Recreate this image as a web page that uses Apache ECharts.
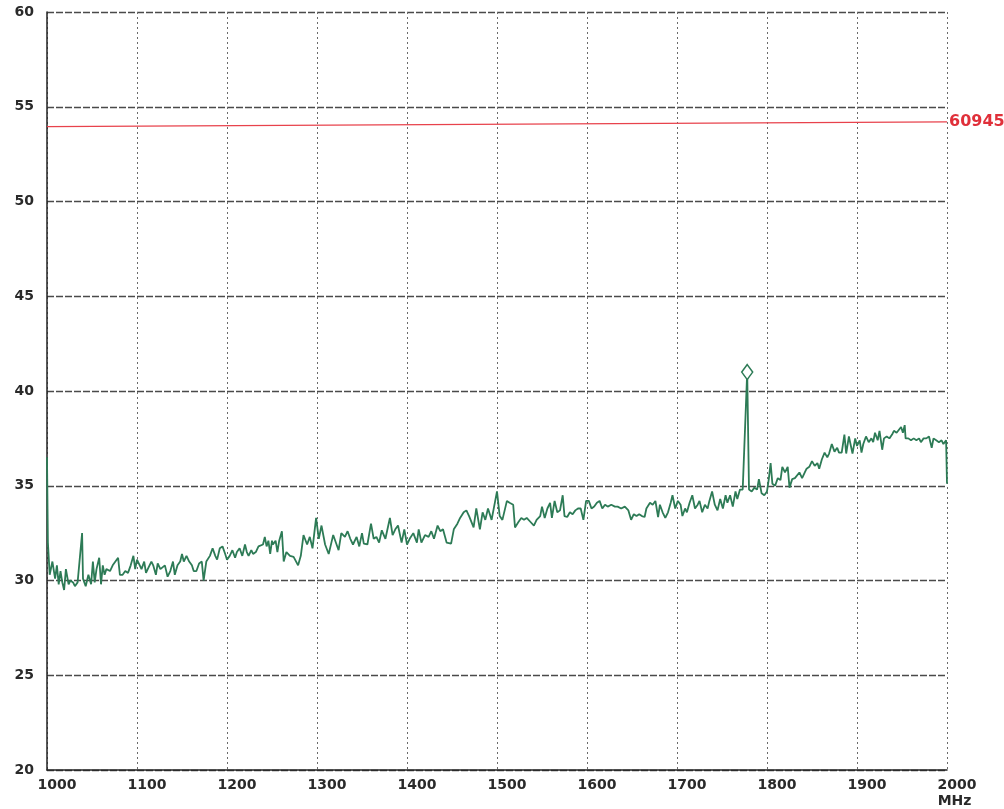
<!DOCTYPE html>
<html>
<head>
<meta charset="utf-8">
<script src="https://cdn.jsdelivr.net/npm/echarts@6/dist/echarts.min.js"></script>
<style>
html,body{margin:0;padding:0;background:#fff;}
#chart{width:1004px;height:809px;}
</style>
</head>
<body>
<div id="chart"></div>
<script>
var freqMHz = [1000,1001,1003,1006,1009,1011,1013,1015,1017,1019,1021,1024,1026,1029,1031,1034,1036,1039,1040,1043,1046,1049,1051,1053,1055,1058,1060,1062,1064,1066,1070,1073,1076,1079,1081,1084,1087,1090,1093,1096,1098,1100,1102,1105,1108,1110,1113,1116,1118,1121,1123,1126,1128,1131,1134,1137,1140,1142,1145,1148,1150,1152,1155,1158,1161,1163,1166,1169,1172,1174,1177,1179,1181,1184,1187,1189,1192,1195,1198,1200,1203,1206,1209,1211,1214,1217,1220,1222,1224,1227,1229,1232,1235,1237,1240,1242,1244,1246,1248,1250,1251,1254,1256,1258,1261,1263,1266,1270,1274,1279,1282,1285,1289,1292,1295,1299,1302,1305,1309,1313,1316,1318,1324,1327,1331,1334,1337,1340,1344,1347,1350,1352,1356,1360,1363,1366,1369,1372,1376,1381,1384,1387,1390,1394,1397,1400,1403,1407,1411,1413,1416,1420,1424,1427,1430,1434,1437,1440,1444,1449,1452,1456,1459,1463,1466,1469,1474,1477,1481,1484,1487,1490,1494,1500,1503,1506,1511,1514,1518,1520,1524,1527,1530,1533,1537,1541,1544,1548,1550,1553,1556,1559,1561,1564,1567,1570,1573,1575,1578,1581,1584,1587,1590,1593,1596,1599,1602,1605,1608,1611,1614,1617,1620,1623,1627,1631,1634,1638,1642,1646,1649,1652,1655,1658,1661,1664,1666,1670,1673,1676,1679,1681,1684,1687,1690,1693,1695,1698,1701,1704,1706,1709,1711,1714,1717,1720,1723,1725,1728,1731,1734,1736,1739,1742,1745,1748,1751,1754,1756,1759,1762,1765,1767,1770,1773,1775,1778,1780,1783,1786,1789,1791,1794,1797,1800,1802,1804,1806,1809,1812,1815,1817,1820,1823,1825,1828,1831,1833,1836,1839,1842,1844,1847,1850,1853,1856,1858,1861,1864,1867,1869,1872,1875,1878,1880,1883,1886,1888,1891,1893,1895,1898,1900,1903,1905,1907,1910,1913,1916,1918,1920,1923,1925,1928,1930,1933,1936,1939,1941,1944,1946,1949,1951,1953,1954,1957,1960,1963,1966,1969,1971,1974,1977,1980,1983,1985,1988,1991,1994,1996,1999,2000];
var levelDb = [36.5,32.0,30.3,31.0,30.1,30.8,29.8,30.5,29.9,29.5,30.6,29.8,30.0,29.9,29.7,29.9,29.9,32.5,30.1,29.7,30.3,29.8,31.0,29.9,30.6,31.2,29.8,30.8,30.3,30.6,30.5,30.8,31.0,31.2,30.3,30.3,30.5,30.4,30.8,31.3,30.6,31.1,31.0,30.6,31.0,30.4,30.7,31.0,30.8,30.3,30.9,30.6,30.7,30.8,30.2,30.5,31.0,30.3,30.8,31.0,31.4,31.0,31.3,31.0,30.8,30.5,30.5,30.9,31.0,30.0,31.0,30.9,31.3,31.7,31.3,31.1,31.7,31.8,31.4,31.1,31.3,31.6,31.2,31.5,31.7,31.3,31.9,31.5,31.3,31.6,31.4,31.5,31.8,31.7,31.9,32.3,31.8,32.1,31.4,32.1,31.9,32.1,31.5,32.1,32.6,31.0,31.5,31.3,31.25,30.8,31.3,32.4,31.9,32.3,31.7,33.3,32.2,32.9,31.9,31.4,32.0,32.4,31.6,32.5,32.3,32.6,32.2,31.9,32.3,31.8,32.5,31.95,31.9,33.0,32.2,32.3,32.0,32.65,32.2,33.3,32.4,32.7,32.9,32.0,32.7,31.9,32.2,32.5,32.0,32.7,32.0,32.4,32.3,32.6,32.2,32.9,32.6,32.7,32.0,31.95,32.7,33.0,33.3,33.6,33.7,33.4,32.8,33.8,32.7,33.6,33.2,33.8,33.2,34.7,33.4,33.2,34.2,34.1,34.0,32.8,33.1,33.3,33.2,33.3,33.1,32.9,33.2,33.4,33.9,33.3,33.8,34.1,33.3,34.2,33.6,33.7,34.5,33.4,33.35,33.6,33.5,33.7,33.8,33.8,33.2,34.2,34.2,33.8,33.9,34.1,34.2,33.8,34.0,33.9,34.0,33.9,33.9,33.8,33.9,33.7,33.2,33.5,33.4,33.5,33.4,33.35,33.8,34.1,34.0,34.2,33.35,34.0,33.6,33.3,33.6,34.1,34.5,33.8,34.2,34.0,33.4,33.8,33.6,34.1,34.5,33.8,34.0,34.2,33.6,34.0,33.8,34.2,34.7,34.0,33.7,34.3,33.8,34.5,34.1,34.5,33.9,34.7,34.3,34.8,34.8,34.7,41.0,34.8,34.7,34.9,34.8,35.35,34.6,34.5,34.7,35.35,36.2,35.1,35.0,35.4,35.3,36.0,35.7,36.0,34.9,35.35,35.4,35.3,35.7,35.4,35.7,35.9,36.0,36.3,36.05,36.2,35.9,36.4,36.75,36.5,36.7,37.2,36.8,37.0,36.75,36.75,37.7,36.7,37.6,37.5,36.7,37.5,37.1,37.4,36.75,37.2,37.6,37.3,37.5,37.3,37.8,37.4,37.9,36.9,37.5,37.6,37.5,37.7,37.9,37.8,37.7,38.1,37.8,38.2,37.5,37.5,37.4,37.5,37.4,37.5,37.3,37.5,37.5,37.6,37.0,37.5,37.4,37.3,37.4,37.2,37.4,35.1];

var markerFreq = [1778];
var markerLevel = [41.0];

var limitFreq = [1000, 2000];
var limitLevel = [53.95, 54.2];
var limitLabel = '60945';

var xTicks = [1000,1100,1200,1300,1400,1500,1600,1700,1800,1900,2000];
var yTicks = [20,25,30,35,40,45,50,55,60];
var unitLabel = 'MHz';

var traceData = freqMHz.map(function (f, i) { return [f, levelDb[i]]; });

var chart = echarts.init(document.getElementById('chart'), null, {renderer: 'canvas'});
var fontFam = '"DejaVu Sans", sans-serif';

chart.setOption({
  animation: false,
  backgroundColor: '#ffffff',
  grid: {left: 47, right: 57, top: 12, bottom: 37, containLabel: false},
  xAxis: {
    type: 'value',
    min: xTicks[0],
    max: xTicks[xTicks.length - 1],
    interval: 100,
    axisLine: {show: true, lineStyle: {color: '#222', width: 1.5}},
    axisTick: {show: false},
    axisLabel: {
      show: true,
      margin: 7,
      color: '#2a2a2a',
      fontFamily: fontFam,
      fontWeight: 'bold',
      fontSize: 14,
      lineHeight: 16,
      padding: [0, 0, 0, 20],
      formatter: function (v) { return v === 2000 ? v + '\n' + unitLabel + ' ' : String(v); }
    },
    splitLine: {show: true, lineStyle: {color: '#6a6a6a', width: 1, type: [2, 3]}}
  },
  yAxis: {
    type: 'value',
    min: yTicks[0],
    max: yTicks[yTicks.length - 1],
    interval: 5,
    axisLine: {show: true, lineStyle: {color: '#222', width: 1.5}},
    axisTick: {show: false},
    axisLabel: {
      show: true,
      margin: 13,
      color: '#2a2a2a',
      fontFamily: fontFam,
      fontWeight: 'bold',
      fontSize: 14
    },
    splitLine: {show: true, lineStyle: {color: '#4a4a4a', width: 1.4, type: [7, 2]}}
  },
  series: [
    {
      type: 'line',
      data: traceData,
      showSymbol: false,
      symbol: 'none',
      lineStyle: {color: '#2d7b56', width: 1.8},
      z: 3,
      markPoint: {
        symbol: 'diamond',
        symbolSize: [11, 15],
        itemStyle: {color: '#ffffff', borderColor: '#2d7b56', borderWidth: 1.5},
        label: {show: false},
        data: markerFreq.map(function (f, i) { return {coord: [f, markerLevel[i]]}; })
      },
      markLine: {
        symbol: ['none', 'none'],
        silent: true,
        lineStyle: {color: '#e8424c', width: 1.2, type: 'solid'},
        label: {
          show: true,
          position: 'end',
          distance: 2,
          color: '#e0303a',
          fontFamily: fontFam,
          fontWeight: 'bold',
          fontSize: 16,
          formatter: limitLabel
        },
        data: [[
          {coord: [limitFreq[0], limitLevel[0]]},
          {coord: [limitFreq[1], limitLevel[1]]}
        ]]
      }
    }
  ]
});
</script>
</body>
</html>
